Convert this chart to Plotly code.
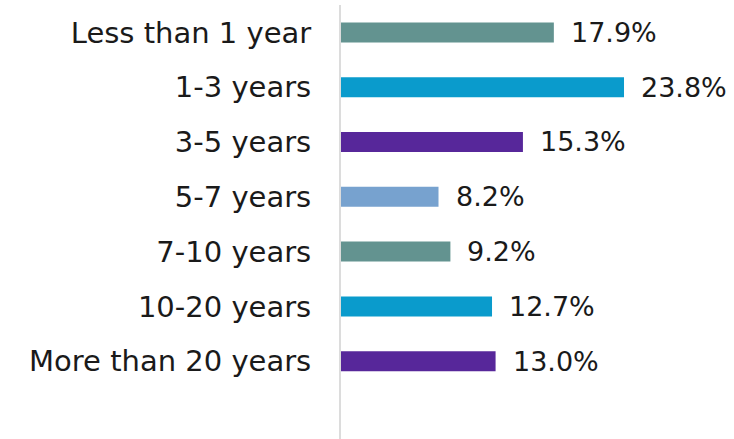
import plotly.graph_objects as go

categories = ["Less than 1 year", "1-3 years", "3-5 years", "5-7 years",
              "7-10 years", "10-20 years", "More than 20 years"]
values = [17.9, 23.8, 15.3, 8.2, 9.2, 12.7, 13.0]
colors = ["#639390", "#0a9bcc", "#57279a", "#77a2cf", "#639390", "#0a9bcc", "#57279a"]
value_labels = [f"{v:.1f}%" for v in values]

FONT = "DejaVu Sans, sans-serif"
TEXT = "#1a1a1a"

fig = go.Figure(go.Bar(
    y=categories, x=values, orientation="h",
    marker=dict(color=colors, line=dict(width=0)),
    width=0.365,
))

for c, v, t in zip(categories, values, value_labels):
    fig.add_annotation(x=v, y=c, text=t, showarrow=False,
                       xanchor="left", yanchor="middle", xshift=15,
                       font=dict(size=27, color=TEXT, family=FONT))

fig.update_layout(
    width=734, height=439,
    margin=dict(l=341, r=0, t=5, b=0),
    paper_bgcolor="white", plot_bgcolor="white",
    showlegend=False,
    xaxis=dict(range=[0, 33.05], visible=False, fixedrange=True, automargin=False),
    yaxis=dict(
        categoryorder="array", categoryarray=categories,
        range=[7.42, -0.5], automargin=False,
        showline=True, linecolor="#dcdcdc", linewidth=2,
        showgrid=False, zeroline=False, ticks="",
        ticklabelstandoff=22,
        tickfont=dict(size=29, color=TEXT, family=FONT),
    ),
)

fig.write_html(
    "out.html",
    config={"displayModeBar": False},
    post_script="document.body.style.margin='0';document.body.style.overflow='hidden';",
)
